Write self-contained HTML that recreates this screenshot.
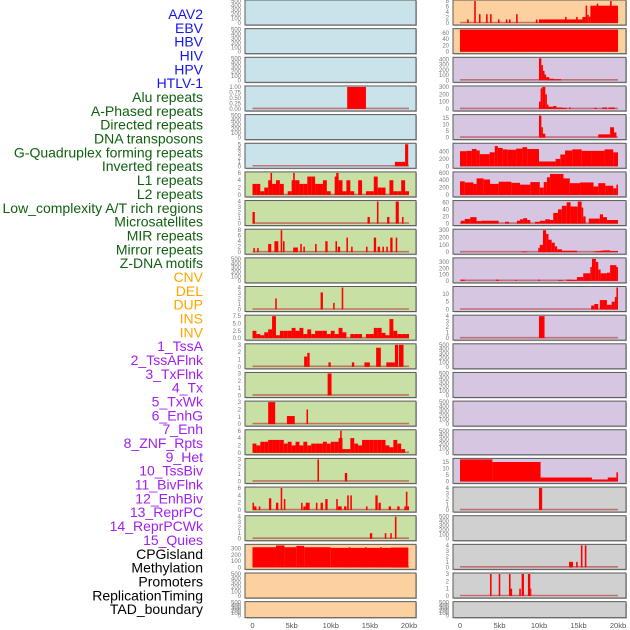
<!DOCTYPE html>
<html><head><meta charset="utf-8">
<style>
html,body{margin:0;padding:0;background:#fff;}
svg{display:block;}
text{font-family:"Liberation Sans",sans-serif;}
</style></head>
<body>
<svg id="chart" width="630" height="630" viewBox="0 0 630 630"></svg>
<script>
const trackLabels = ["AAV2","EBV","HBV","HIV","HPV","HTLV-1","Alu repeats","A-Phased repeats","Directed repeats","DNA transposons","G-Quadruplex forming repeats","Inverted repeats","L1 repeats","L2 repeats","Low_complexity A/T rich regions","Microsatellites","MIR repeats","Mirror repeats","Z-DNA motifs","CNV","DEL","DUP","INS","INV","1_TssA","2_TssAFlnk","3_TxFlnk","4_Tx","5_TxWk","6_EnhG","7_Enh","8_ZNF_Rpts","9_Het","10_TssBiv","11_BivFlnk","12_EnhBiv","13_ReprPC","14_ReprPCWk","15_Quies","CPGisland","Methylation","Promoters","ReplicationTiming","TAD_boundary"];
const labelGroupSizes = [6,13,5,15,5];
const xTickValues = [0,5,10,15,20];
const xTickLabels = ["0","5kb","10kb","15kb","20kb"];

const leftYmax = [500,500,500,1,500,5,6,4,8,500,4,7.5,3,3,3,6,3,6,4,350,500,500];
const rightYmax = [8,70,420,300,17,600,600,62,300,350,14,4,500,500,500,500,17,4,500,4,3,500];
const leftTicks = [[0,100,200,300,400,500],[0,100,200,300,400,500],[0,100,200,300,400,500],[0,0.25,0.5,0.75,1],[0,100,200,300,400,500],[0,1,2,3,4,5],[0,2,4,6],[0,1,2,3,4],[0,2,4,6,8],[0,100,200,300,400,500],[0,1,2,3,4],[0,2.5,5,7.5],[0,1,2,3],[0,1,2,3],[0,1,2,3],[0,2,4,6],[0,1,2,3],[0,2,4,6],[0,1,2,3,4],[0,100,200,300],[0,100,200,300,400,500],[0,100,200,300,400,500]];
const rightTicks = [[0,2,4,6,8],[0,20,40,60],[0,100,200,300,400],[0,100,200,300],[0,5,10,15],[0,200,400],[0,200,400,600],[0,20,40,60],[0,100,200,300],[0,100,200,300],[0,5,10],[0,1,2,3,4],[0,100,200,300,400,500],[0,100,200,300,400,500],[0,100,200,300,400,500],[0,100,200,300,400,500],[0,5,10,15],[0,1,2,3,4],[0,100,200,300,400,500],[0,1,2,3,4],[0,1,2,3],[0,100,200,300,400,500]];
const leftBg = ["#c9e3ea","#c9e3ea","#c9e3ea","#c9e3ea","#c9e3ea","#c9e3ea","#c9e0a5","#c9e0a5","#c9e0a5","#c9e0a5","#c9e0a5","#c9e0a5","#c9e0a5","#c9e0a5","#c9e0a5","#c9e0a5","#c9e0a5","#c9e0a5","#c9e0a5","#fdd0a0","#fdd0a0","#fdd0a0"];
const rightBg = ["#fdd0a0","#fdd0a0","#d6c6e2","#d6c6e2","#d6c6e2","#d6c6e2","#d6c6e2","#d6c6e2","#d6c6e2","#d6c6e2","#d6c6e2","#d6c6e2","#d6c6e2","#d6c6e2","#d6c6e2","#d6c6e2","#d6c6e2","#d0d0d0","#d0d0d0","#d0d0d0","#d0d0d0","#d0d0d0"];

// segments: [startKb, endKb, value]
const leftSegs = [
 [],[],[],
 [[12.1,14.5,1]],
 [],
 [[18.2,19.5,1],[19.5,19.9,5]],
 [[0,0.5,3],[0.5,1,3],[1,1.5,1],[1.5,2,2],[2,2.5,4],[2.3,2.5,6],[2.5,3,3],[3,3.5,4],[3.5,4,3],[4.5,5,1],[5,5.5,4],[5.2,5.4,6],[5.5,6,4],[6,6.5,3],[6.5,7,3],[7,7.5,5],[7.5,8,5],[8,8.5,3],[8.5,9,3],[9,9.5,4],[9.5,10,1],[10.5,11,5],[10.7,11,6],[11,11.5,4],[11.5,12,1],[12,12.5,4],[12.5,13,1],[13.5,14,4],[14.5,15,1],[15,15.5,1],[15.5,16,5],[16,16.5,2],[16.5,17,2],[17.5,18,4],[18,18.5,1],[18.5,19,1],[19,19.5,4],[19.5,20,1]],
 [[0,0.3,2.1],[14.7,15.0,1.2],[15.9,16.1,4],[17.2,17.5,1.2],[18.3,18.7,4],[19.1,19.3,1.2]],
 [[0.1,0.3,1.5],[0.6,0.8,1.5],[2.0,2.4,3],[2.8,3.3,4],[3.6,3.8,8],[3.9,4.1,4],[5.2,5.8,1.7],[6.1,6.3,3],[6.5,6.7,2],[8.0,8.2,3],[9.3,9.6,4],[10.6,10.8,4],[10.9,11.2,2],[12.0,12.2,5.3],[12.6,12.8,2],[14.5,14.7,2],[15.5,15.8,5.3],[16.0,16.3,2],[16.6,16.8,2],[17.1,17.3,2],[17.6,17.9,5.3],[18.3,18.5,5.3]],
 [],
 [[2.9,3.1,2],[8.7,9.0,3.1],[10.3,10.5,1.2],[11.4,11.6,4]],
 [[0,0.5,2.5],[0.5,1,1.4],[1,1.5,1],[1.5,2,2],[2,2.5,3],[2.5,3,7.5],[3,3.5,1],[3.5,4,2.5],[4,4.5,2.5],[4.5,5,2.5],[5,5.5,3.5],[5.5,6,2.5],[6,6.5,3.5],[6.5,7,1.4],[7,7.5,3],[7.5,8,1.4],[8,8.5,2.5],[8.5,9,2.5],[9,9.5,2.5],[9.5,10,1.4],[10,10.5,2.5],[10.5,11,1.4],[11,11.5,3.5],[11.5,12,2],[12.5,13,1.4],[13,13.5,1.4],[13.5,14,1.4],[14.5,15,1.4],[15,15.5,1.4],[15.5,16,3.5],[16,16.5,3.5],[16.5,17,1.8],[17,17.5,1],[17.5,18,6.5],[18,18.5,2.5],[18.5,19,1.4],[19,19.5,1.4],[19.5,20,1.4]],
 [[6.6,7.0,1.4],[7.0,7.3,1.9],[9.7,10.0,0.6],[12.7,13.0,0.6],[14.3,15.0,0.6],[15.8,16.4,2.6],[17.1,18.2,0.6],[18.2,18.6,3],[18.7,19.3,3]],
 [[9.6,10.1,3]],
 [[2.0,2.9,3],[4.4,5.4,1.1],[6.9,7.1,2]],
 [[0,0.5,2.5],[0.5,1,2],[1,1.5,3],[1.5,2,3],[2,2.5,3.5],[2.5,3,3.5],[3,3.5,3.5],[3.5,4,3.5],[4,4.5,2.5],[4.5,5,3],[5,5.5,2],[5.5,6,3],[6,6.5,2],[6.5,7,3],[7,7.5,2],[7.5,8,2.5],[8,8.5,2.5],[8.5,9,2.5],[9,9.5,3],[9.5,10,2.5],[10,10.5,3],[10.5,11,3],[11,11.5,4],[11.2,11.4,6],[11.5,12,1],[12,12.5,1],[12.5,13,4],[13,13.5,2.5],[13.5,14,2],[14,14.5,3.5],[14.5,15,3.5],[15,15.5,3.5],[15.5,16,3.5],[16,16.5,3.5],[16.5,17,3.5],[17,17.5,2],[17.5,18,1.5],[18,18.5,3.5],[18.5,19,2.5],[19,19.5,1]],
 [[8.3,8.5,3],[11.8,12.1,1.15]],
 [[0,0.2,2],[0.2,0.5,1],[0.8,1.0,1],[2.1,2.4,3.2],[3.0,3.3,2],[3.6,3.8,6],[4.0,4.2,3],[6.2,6.4,2],[6.5,6.8,1],[6.8,7.3,2],[8.1,8.3,2],[8.7,9.0,2],[9.3,9.6,3],[10.7,10.9,3],[10.9,11.4,1],[11.7,12.0,1],[12.1,12.3,4],[12.5,12.7,4],[14.5,14.7,1],[15.7,16.0,4],[16.1,16.4,2],[17.4,17.7,1],[18.5,18.8,1],[19.4,19.6,1],[19.6,19.8,5],[19.8,20,1]],
 [[15.0,15.3,1],[16.9,17.1,1],[17.6,17.8,1],[18.2,18.4,4]],
 [[0,3.0,320],[3.0,4.1,348],[4.1,5.6,320],[5.6,6.6,342],[6.6,10.0,320],[10.0,19.9,310],[12.3,12.5,320],[14.4,14.6,320],[16.3,16.5,320],[17.7,19.9,315]],
 [],[]
];
const rightSegs = [
 [[0.9,1.1,1.3],[1.8,2.0,8],[2.4,2.6,3.2],[3.3,3.5,3.2],[3.8,4.0,3.2],[4.8,5.0,1.3],[5.8,6.0,1.3],[6.2,6.4,1.3],[7.1,7.3,3.2],[9.6,9.8,1.3],[10.0,15.5,1.3],[13.3,13.5,2.2],[14.7,14.9,2.2],[15.5,15.9,2.2],[15.9,16.1,6.3],[16.1,16.3,3],[16.3,16.5,2.3],[16.5,20,6.3],[17.3,17.5,7],[19.0,19.2,8]],
 [[0,20,70]],
 [[10.0,10.3,420],[10.3,10.5,290],[10.5,10.7,180],[10.7,10.9,110],[10.9,11.3,60],[11.3,11.9,30],[11.9,12.8,20]],
 [[10.0,10.2,100],[10.2,10.4,280],[10.4,10.8,300],[10.8,11.0,200],[11.0,11.2,60],[11.2,11.8,30],[11.8,12.2,40],[12.2,13.0,20],[13.0,13.5,15],[13.8,14.0,20],[17.0,17.3,15],[18.0,18.6,20],[18.8,19.6,20]],
 [[10.0,10.3,17],[10.3,10.5,8],[10.5,10.8,3],[17.5,19.0,2.5],[19.0,19.5,8],[19.5,19.8,4]],
 [[0,0.8,410],[0.8,1.5,420],[1.5,2.1,470],[2.1,2.5,430],[2.5,3.75,330],[3.75,4.4,380],[4.4,4.8,550],[4.8,5.4,500],[5.4,6.0,460],[6.0,7.1,450],[7.1,7.9,480],[7.9,8.5,520],[8.5,10,470],[10,12.1,130],[12.1,12.7,200],[12.7,13.3,320],[13.3,14.2,430],[14.2,15.4,460],[15.4,16.7,420],[16.7,18.3,420],[18.3,19.4,460],[19.4,20,380]],
 [[0,0.6,370],[0.6,1.7,340],[1.7,2.1,300],[2.1,3.0,450],[3.0,3.8,420],[3.8,4.9,300],[4.9,6.5,360],[6.5,7.6,330],[7.6,8.9,280],[8.9,10.1,350],[10.1,10.6,200],[10.6,11.0,350],[11.0,11.4,480],[11.4,13.1,570],[13.1,13.9,450],[13.9,15.2,320],[15.2,16.9,340],[16.9,17.5,230],[17.5,18.4,320],[18.4,19.4,250],[19.4,19.8,180],[19.8,20,280]],
 [[0.1,0.6,8],[0.6,1.3,13],[1.3,2.1,18],[2.1,2.7,7],[2.7,4.9,8],[5.7,6.2,5],[7.2,7.6,8],[7.6,8.0,12],[8.0,8.5,15],[8.5,8.9,10],[9.5,10.1,5],[10.1,10.8,8],[10.8,11.4,12],[11.4,11.8,10],[11.8,12.4,30],[12.4,12.9,40],[12.9,13.5,50],[13.5,14.0,60],[14.0,14.9,48],[14.9,15.4,62],[15.4,15.6,45],[15.6,15.9,20],[16.3,17.7,14],[17.7,18.1,26],[18.1,18.6,18],[18.6,20,10]],
 [[7.8,8.5,8],[9.9,10.1,60],[10.1,10.5,100],[10.5,10.9,300],[10.9,11.2,250],[11.2,11.6,170],[11.6,12.0,130],[12.0,12.3,80],[12.3,12.9,40],[12.9,14.8,20],[16.9,17.3,10],[17.3,17.7,15],[17.7,18.1,20],[18.1,19.0,25],[19.0,20,15]],
 [[0.1,0.6,20],[4.6,4.9,20],[7.0,7.2,10],[9.9,10.1,20],[12.4,13.0,10],[13.5,14.1,20],[14.1,14.8,15],[14.8,15.6,60],[15.6,16.5,120],[16.5,16.7,220],[16.7,17.2,350],[17.2,17.5,300],[17.5,17.8,180],[17.8,18.6,120],[18.6,19.0,130],[19.0,19.8,250],[19.8,20,220]],
 [[16.6,17.0,2.5],[17.0,17.5,3.5],[17.7,18.6,6],[18.6,19.2,3],[19.2,19.6,5],[19.6,19.8,8],[19.8,20,14]],
 [[10.0,10.7,4]],
 [],[],[],[],
 [[0,4.1,17],[4.1,10.2,15],[10.2,16.7,3],[16.7,18.7,1.5],[18.7,19.8,3],[19.8,20,7]],
 [[10.0,10.4,4]],
 [],
 [[13.8,14.3,1],[14.7,14.9,1],[15.3,15.5,4],[15.8,16.0,4]],
 [[3.8,4.0,3],[4.9,5.1,3],[6.2,6.4,3],[6.4,6.6,1],[7.5,7.7,1],[7.8,8.1,3],[8.6,8.9,3],[8.9,9.0,1]],
 []
];

const NS = "http://www.w3.org/2000/svg";
const svg = document.getElementById("chart");
function mk(tag, attrs, parent){ const e=document.createElementNS(NS,tag); for(const k in attrs) e.setAttribute(k,attrs[k]); (parent||svg).appendChild(e); return e; }

// labels
const groupColors = ["#1515f0","#106010","#ffa500","#a020f0","#000000"];
let gi=0, gc=0;
trackLabels.forEach((lab,i)=>{
  const t = mk("text",{x:203,y:19+i*13.84,"text-anchor":"end","font-size":"14","fill":groupColors[gi]});
  t.textContent = lab;
  
  
  gc++; if(gc>=labelGroupSizes[gi]){gi++;gc=0;}
});

const cols = [
  {side:"left", x0:245, x1:416, d0:252.5, d1:409, tickX:241, ymax:leftYmax, ticks:leftTicks, bg:leftBg, segs:leftSegs},
  {side:"right", x0:453, x1:626, d0:460, d1:618, tickX:449, ymax:rightYmax, ticks:rightTicks, bg:rightBg, segs:rightSegs}
];
const nPanels = 22;
cols.forEach(c=>{
  const sx = kb => c.d0 + (c.d1-c.d0)*kb/20;
  for(let i=0;i<nPanels;i++){
    const top = i*28.65;
    const h = (i===nPanels-1)?16:25;
    const base = top+h-2, plotH = h-3;
    const sy = v => base - plotH*v/c.ymax[i];
    const g = mk("g",{});
    
    
    mk("rect",{x:c.x0+1,y:top+1,width:c.x1-c.x0,height:h,fill:"#bbb"},g);
    mk("rect",{x:c.x0,y:top,width:c.x1-c.x0,height:h,fill:c.bg[i],stroke:"#5a5a5a","stroke-width":1},g);
    const segs = c.segs[i];
    if(segs.length){
      const bl = mk("line",{x1:sx(0),x2:sx(20),y1:base-0.5,y2:base-0.5,stroke:"#b85050","stroke-width":1.6,"stroke-opacity":0.75},g);
      
      
    }
    segs.forEach(s=>{
      const y = Math.max(sy(s[2]), top+1);
      const r = mk("rect",{x:sx(s[0]),y:y,width:Math.max(1,sx(s[1])-sx(s[0])),height:base-y,fill:"#ff0000"},g);
      
      
    });
    c.ticks[i].forEach(tv=>{
      const t = mk("text",{x:c.tickX,y:sy(tv)+2,"text-anchor":"end","font-size":"6","fill":"#777"},g);
      t.textContent = String(tv===0.25||tv===0.5||tv===0.75||tv===1&&c.ymax[i]===1 ? tv.toFixed(2) : (tv===2.5||tv===7.5||(tv===5&&c.ymax[i]===7.5)||(tv===0&&c.ymax[i]===7.5)) ? tv.toFixed(1) : (c.ymax[i]===1&&tv===0? "0.00" : tv));
      
      
    });
  }
  xTickValues.forEach((v,j)=>{
    const t = mk("text",{x:sx(v),y:628,"text-anchor":"middle","font-size":"7.5","fill":"#555"});
    t.textContent = xTickLabels[j];
    
    
  });
});
</script>
</body></html>
